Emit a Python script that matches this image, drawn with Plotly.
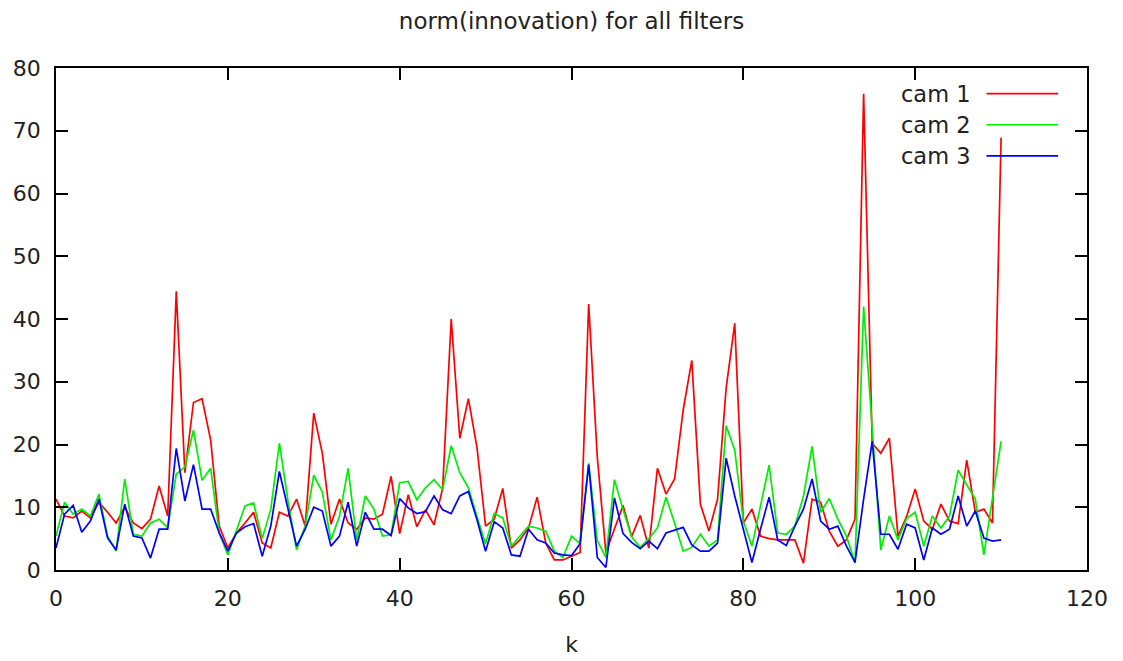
import plotly.graph_objects as go

# innovation norm per time step k for each camera filter
k = list(range(111))

cam1 = [11.3, 8.6, 8.3, 9.4, 8.3, 10.8, 9.2, 7.5, 10.0, 7.5,
        6.6, 8.1, 13.4, 8.6, 44.4, 15.5, 26.7, 27.3, 20.7, 7.0,
        3.5, 5.9, 7.5, 9.2, 4.3, 3.5, 9.2, 8.6, 11.3, 7.0,
        25.0, 18.6, 7.3, 11.3, 7.5, 6.5, 8.3, 8.1, 8.9, 14.9,
        5.8, 12.0, 6.9, 9.6, 7.2, 13.0, 40.0, 21.0, 27.3, 19.5,
        7.0, 8.1, 13.0, 3.5, 4.8, 6.7, 11.6, 4.3, 1.6, 1.6,
        2.2, 2.8, 42.4, 18.0, 2.8, 6.5, 10.3, 5.3, 8.7, 3.5,
        16.2, 12.1, 14.5, 25.5, 33.4, 10.5, 6.2, 11.3, 29.0, 39.3,
        7.5, 9.7, 5.4, 5.0, 4.8, 4.8, 4.8, 1.1, 11.3, 10.8,
        6.2, 3.8, 4.8, 8.1, 75.9, 20.2, 18.6, 21.0, 5.4, 8.5,
        12.9, 7.8, 6.5, 10.5, 7.8, 7.4, 17.5, 9.2, 9.7, 7.5,
        68.9]

cam2 = [5.4, 10.8, 8.9, 9.7, 8.6, 12.1, 5.4, 3.0, 14.5, 5.7,
        5.4, 7.5, 8.1, 6.7, 15.3, 16.4, 22.3, 14.3, 16.2, 5.9,
        2.4, 6.2, 10.2, 10.7, 5.0, 9.7, 20.2, 11.0, 3.2, 7.0,
        15.1, 12.4, 4.8, 8.6, 16.2, 4.8, 11.8, 9.7, 5.4, 5.6,
        13.9, 14.1, 11.2, 13.1, 14.4, 12.8, 19.8, 15.5, 13.1, 8.5,
        4.2, 9.0, 8.3, 3.8, 5.4, 7.0, 6.7, 6.2, 3.0, 2.0,
        5.4, 4.2, 17.0, 4.7, 2.0, 14.4, 9.6, 5.3, 3.6, 5.0,
        6.7, 11.6, 7.5, 3.0, 3.6, 5.7, 3.8, 4.8, 23.0, 19.1,
        7.8, 3.8, 10.2, 16.7, 5.9, 5.7, 7.0, 11.8, 19.7, 9.2,
        11.4, 8.1, 5.4, 1.1, 42.0, 22.0, 3.2, 8.6, 4.8, 8.2,
        9.2, 3.8, 8.6, 6.7, 8.6, 15.9, 13.7, 11.3, 2.4, 11.8,
        20.5]

cam3 = [3.5, 8.9, 10.3, 6.0, 7.8, 11.3, 5.1, 3.2, 10.5, 5.4,
        5.1, 1.9, 6.5, 6.5, 19.4, 11.0, 16.8, 9.7, 9.7, 5.9,
        3.0, 5.9, 6.9, 7.4, 2.2, 7.0, 15.7, 9.7, 3.8, 6.5,
        10.0, 9.4, 3.8, 5.4, 10.8, 3.8, 9.2, 6.5, 6.5, 5.5,
        11.4, 9.9, 9.0, 9.3, 11.8, 9.6, 9.0, 11.8, 12.5, 8.0,
        3.0, 7.7, 6.7, 2.4, 2.2, 6.5, 4.8, 4.3, 2.7, 2.4,
        2.3, 4.2, 16.8, 2.0, 0.4, 11.5, 5.8, 4.4, 3.4, 4.6,
        3.4, 5.9, 6.4, 6.8, 4.0, 3.0, 3.0, 4.3, 17.8, 11.8,
        6.5, 1.2, 6.5, 11.6, 4.8, 3.9, 7.0, 9.7, 14.5, 7.8,
        6.5, 7.0, 3.8, 1.2, 11.3, 20.5, 5.7, 5.7, 3.3, 7.3,
        6.7, 1.6, 6.7, 5.7, 6.5, 11.8, 7.0, 9.4, 5.1, 4.6,
        4.8]

names = ["cam 1", "cam 2", "cam 3"]
colors = ["#ff0000", "#00ee00", "#0000ff"]
series = [cam1, cam2, cam3]

FONT = "DejaVu Sans"
TXT = "#222222"

fig = go.Figure()
for name, col, vals in zip(names, colors, series):
    fig.add_trace(go.Scatter(x=k, y=vals, mode="lines", name=name,
                             line=dict(color=col, width=1.7),
                             showlegend=False))

# key in the upper right corner: label followed by a line sample
key_rows = [0.949, 0.887, 0.825]
for name, col, yy in zip(names, colors, key_rows):
    fig.add_annotation(x=0.8895, y=yy, xref="paper", yref="paper",
                       text=name, showarrow=False, xanchor="right",
                       yanchor="middle",
                       font=dict(family=FONT, size=22.5, color=TXT))
    fig.add_shape(type="line", xref="paper", yref="paper",
                  x0=0.9025, x1=0.972, y0=yy, y1=yy,
                  line=dict(color=col, width=1.7))

axis_common = dict(showline=True, linecolor="black", linewidth=1.5,
                   mirror="allticks", ticks="inside", ticklen=12,
                   tickwidth=1.5, tickcolor="black", showgrid=False,
                   zeroline=False, automargin=False,
                   tickfont=dict(family=FONT, size=22, color=TXT))

fig.update_xaxes(range=[0, 120], dtick=20, tick0=0,
                 title=dict(text="k", standoff=26,
                            font=dict(family=FONT, size=22, color=TXT)),
                 ticklabelstandoff=8, **axis_common)
fig.update_yaxes(range=[0, 80], dtick=10, tick0=0,
                 ticklabelstandoff=9, **axis_common)

fig.update_layout(
    width=1123, height=661,
    margin=dict(l=56, r=36, t=68, b=91),
    paper_bgcolor="white", plot_bgcolor="white",
    title=dict(text="norm(innovation) for all filters", x=0.5, xref="paper",
               y=0.969, yanchor="middle",
               font=dict(family=FONT, size=23, color=TXT)),
)

fig.write_html("out.html")
